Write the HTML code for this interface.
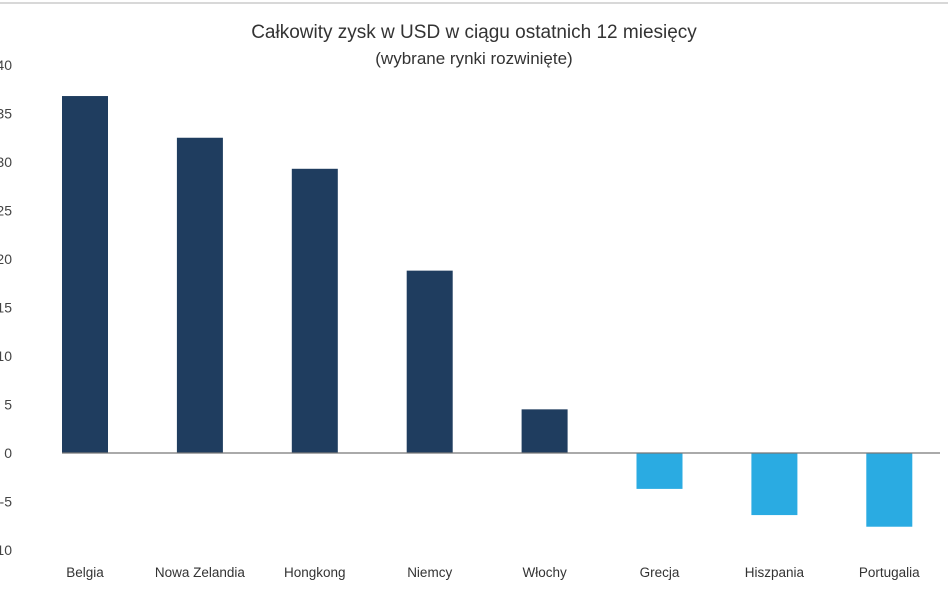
<!DOCTYPE html>
<html><head><meta charset="utf-8"><style>
body{margin:0;background:#fff;}
svg{display:block;font-family:"Liberation Sans",sans-serif;}
</style></head><body>
<svg id="chart" width="948" height="593">
<line x1="0" y1="3" x2="948" y2="3" stroke="#cccccc" stroke-width="1.5"/>
<text x="474" y="38" text-anchor="middle" font-size="19" fill="#333">Całkowity zysk w USD w ciągu ostatnich 12 miesięcy</text>
<text x="474" y="64" text-anchor="middle" font-size="17" fill="#333">(wybrane rynki rozwinięte)</text>
<g id="yaxis"></g><g id="bars"></g><g id="xlabels"></g>
</svg>
<script>
const categories=["Belgia","Nowa Zelandia","Hongkong","Niemcy","Włochy","Grecja","Hiszpania","Portugalia"];
const values=[36.8,32.5,29.3,18.8,4.5,-3.7,-6.4,-7.6];
const yTicks=[40,35,30,25,20,15,10,5,0,-5,-10];
const ns="http://www.w3.org/2000/svg";
const zeroY=453, pxPerUnit=9.7;
function y(v){return zeroY-v*pxPerUnit;}
function xCenter(i){return 85+i*114.9;}
const svg=document.getElementById('chart');
const ya=document.getElementById('yaxis'),bg=document.getElementById('bars'),xl=document.getElementById('xlabels');
yTicks.forEach(t=>{
 const el=document.createElementNS(ns,'text');
 
 
 el.setAttribute('x',12);el.setAttribute('y',y(t)+5);
 el.setAttribute('text-anchor','end');el.setAttribute('font-size','14');el.setAttribute('fill','#444');
 el.textContent=t;ya.appendChild(el);
});
values.forEach((v,i)=>{
 const r=document.createElementNS(ns,'rect');
 
 
 r.setAttribute('x',xCenter(i)-23);r.setAttribute('width',46);
 r.setAttribute('y',Math.min(y(v),zeroY));r.setAttribute('height',Math.abs(y(v)-zeroY));
 r.setAttribute('fill',v>=0?'#1f3d5f':'#2aabe2');
 bg.appendChild(r);
 const t=document.createElementNS(ns,'text');
 
 
 t.setAttribute('x',xCenter(i));t.setAttribute('y',577);
 t.setAttribute('text-anchor','middle');t.setAttribute('font-size','13.5');t.setAttribute('fill','#333');
 t.textContent=categories[i];xl.appendChild(t);
});
const zl=document.createElementNS(ns,'line');


zl.setAttribute('x1',62);zl.setAttribute('x2',940);zl.setAttribute('y1',zeroY);zl.setAttribute('y2',zeroY);
zl.setAttribute('stroke','#777');zl.setAttribute('stroke-width','1.2');
svg.appendChild(zl);
</script>
</body></html>
